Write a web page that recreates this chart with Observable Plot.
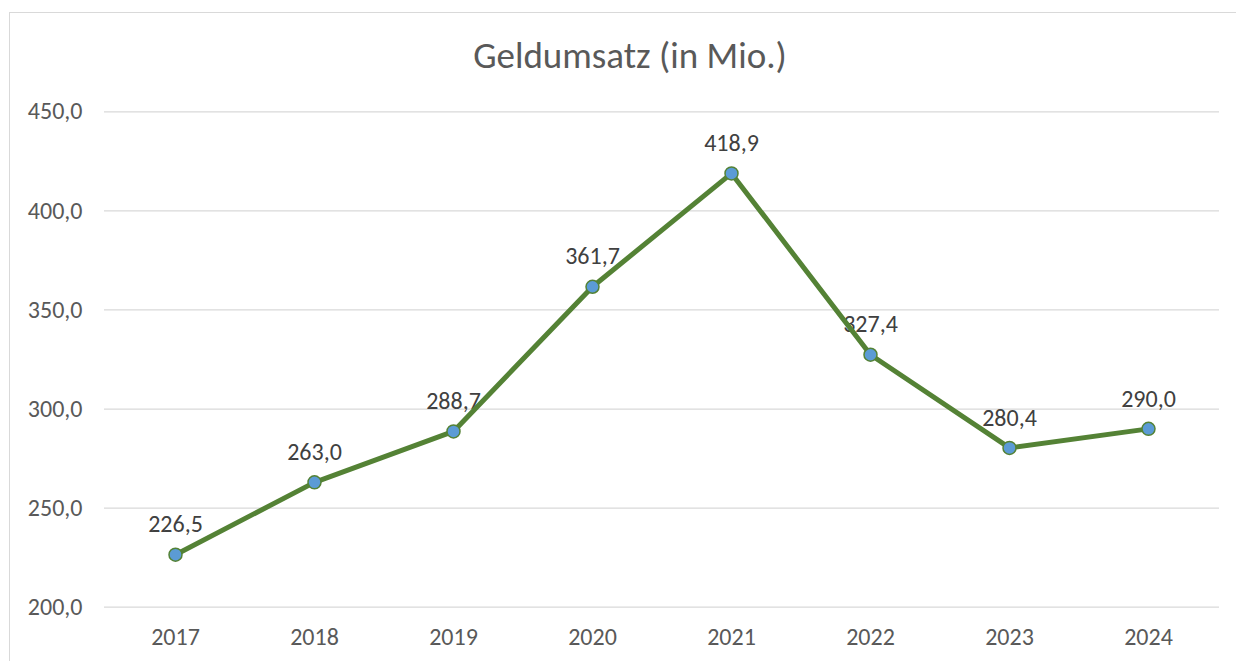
<!DOCTYPE html>
<html>
<head>
<meta charset="utf-8">
<script src="https://cdn.jsdelivr.net/npm/d3@7"></script>
<script src="https://cdn.jsdelivr.net/npm/@observablehq/plot@0.6"></script>
<style>
  html, body { margin: 0; padding: 0; background: #fff; width: 1236px; height: 661px; overflow: hidden; }
  #wrap { position: absolute; left: 9px; top: 12px; width: 1240px; height: 660px;
          border-left: 1px solid #d9d9d9; border-top: 1px solid #d9d9d9; }
  #title { height: 67px; box-sizing: border-box; padding-top: 24px; text-align: center;
           font-family: Carlito, "Open Sans", sans-serif; font-size: 37px; line-height: 1; color: #595959;
           width: 1226px; padding-left: 14px; white-space: nowrap; }
  svg { display: block; }
</style>
</head>
<body>
<div id="wrap">
  <div id="title">Geldumsatz (in Mio.)</div>
  <div id="chart"></div>
</div>
<script>
const years = ["2017", "2018", "2019", "2020", "2021", "2022", "2023", "2024"];
const values = [226.5, 263.0, 288.7, 361.7, 418.9, 327.4, 280.4, 290.0];
const yTicks = [200, 250, 300, 350, 400, 450];

const data = years.map((y, i) => ({year: y, value: values[i]}));
const fmt = d => d.toFixed(1).replace(".", ",");

const chart = Plot.plot({
  width: 1226,
  height: 581,
  marginLeft: 94,
  marginRight: 17,
  marginTop: 31.3,
  marginBottom: 54.3,
  style: {fontFamily: 'Carlito, "Open Sans", sans-serif', fontSize: "24px", color: "#595959", background: "#fff"},
  x: {type: "point", domain: years, padding: 0.5, label: null},
  y: {domain: [200, 450], ticks: yTicks, label: null},
  marks: [
    Plot.gridY(yTicks, {stroke: "#d9d9d9", strokeOpacity: 1, strokeWidth: 1.3}),
    Plot.axisY(yTicks, {tickSize: 0, tickPadding: 22, tickFormat: fmt, fill: "#595959", fontSize: 24}),
    Plot.axisX(years, {tickSize: 0, tickPadding: 21, fill: "#595959", fontSize: 24}),
    Plot.text(data, {x: "year", y: "value", text: d => fmt(d.value), dy: -30, fill: "#404040", fontSize: 24}),
    Plot.line(data, {x: "year", y: "value", stroke: "#548235", strokeWidth: 5, strokeLinejoin: "round"}),
    Plot.dot(data, {x: "year", y: "value", r: 6.5, fill: "#5b9bd5", stroke: "#548235", strokeWidth: 1.5})
  ]
});
document.getElementById("chart").appendChild(chart);
</script>
</body>
</html>
